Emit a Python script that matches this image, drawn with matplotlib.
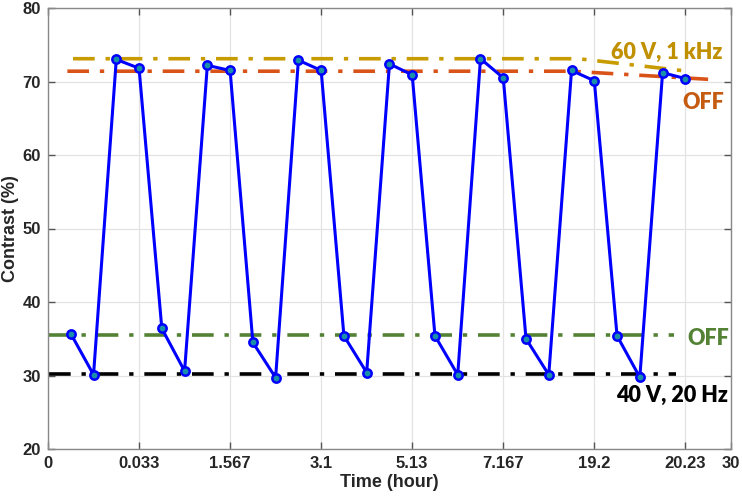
import numpy as np
import matplotlib.pyplot as plt

# measured contrast, one point per step
time_idx = [1, 2, 3, 4, 5, 6, 7, 8, 9, 10, 11, 12, 13, 14,
            15, 16, 17, 18, 19, 20, 21, 22, 23, 24, 25, 26, 27, 28]
contrast = [35.7, 30.1, 73.0, 71.8, 36.4, 30.6, 72.2, 71.5, 34.5, 29.7, 72.9, 71.5, 35.4, 30.4,
            72.4, 70.9, 35.4, 30.1, 73.1, 70.5, 35.0, 30.1, 71.5, 70.1, 35.4, 29.75, 71.2, 70.4]

# reference levels
on_high_x = [1.1, 23.3, 28.1]
on_high_y = [73.1, 73.1, 71.4]
off_high_x = [0.85, 23.0, 29.0]
off_high_y = [71.4, 71.4, 70.3]
off_low_x = [0.05, 27.5]
off_low_y = [35.55, 35.55]
on_low_x = [0.05, 27.6]
on_low_y = [30.15, 30.15]

xtick_pos = [0, 4, 8, 12, 16, 20, 24, 28, 30]
xtick_labels = ['0', '0.033', '1.567', '3.1', '5.13', '7.167', '19.2', '20.23', '30']


def main():
    plt.rcParams['font.family'] = ['Liberation Sans', 'DejaVu Sans']
    fig = plt.figure(figsize=(7.42, 5.0), dpi=100)
    ax = fig.add_axes([0.0647, 0.102, 0.9203, 0.882])

    lw_ref = 2.6
    ax.plot(on_high_x, on_high_y, color='#C89B00', lw=lw_ref, dashes=(6, 3, 1.2, 3))
    ax.plot(off_high_x, off_high_y, color='#D95319', lw=lw_ref, dashes=(6, 3, 1.2, 3))
    ax.plot(off_low_x, off_low_y, color='#548235', lw=lw_ref, dashes=(6, 3, 1.2, 3))
    ax.plot(on_low_x, on_low_y, color='black', lw=lw_ref, dashes=(6, 3, 1.2, 3))

    ax.plot(time_idx, contrast, color='#0000FF', lw=2.2, marker='o', ms=6,
            mec='#0000FF', mew=1.8, mfc='#1A8FA8', zorder=5)

    tfont = dict(family=['Lato', 'DejaVu Sans'], fontweight='heavy', fontsize=15.5)
    ax.text(27.2, 74.0, '60 V, 1 kHz', color='#C09000', ha='center', va='center', **tfont)
    ax.text(28.8, 67.1, 'OFF', color='#C55A11', ha='center', va='center', **tfont)
    ax.text(29.0, 35.1, 'OFF', color='#548235', ha='center', va='center', **tfont)
    ax.text(27.4, 27.3, '40 V, 20 Hz', color='black', ha='center', va='center', **tfont)

    ax.set_xlim(0, 30)
    ax.set_ylim(20, 80)
    ax.set_xticks(xtick_pos)
    ax.set_xticklabels(xtick_labels)
    ax.set_yticks(np.arange(20, 81, 10))
    ax.grid(True, color='#E3E3E3', lw=0.9)
    ax.set_axisbelow(True)
    ax.tick_params(direction='in', top=True, right=True, length=5, width=1,
                   color='#555555', labelsize=12, labelcolor='#262626', pad=5)
    for lab in ax.get_xticklabels() + ax.get_yticklabels():
        lab.set_fontweight('bold')
    for sp in ax.spines.values():
        sp.set_color('#888888')
        sp.set_linewidth(1.0)

    ax.set_xlabel('Time (hour)', fontsize=13, fontweight='bold', color='#262626', labelpad=2)
    ax.set_ylabel('Contrast (%)', fontsize=13, fontweight='bold', color='#262626', labelpad=3)

    fig.savefig('out.png', dpi=100)


if __name__ == "__main__":
    main()
